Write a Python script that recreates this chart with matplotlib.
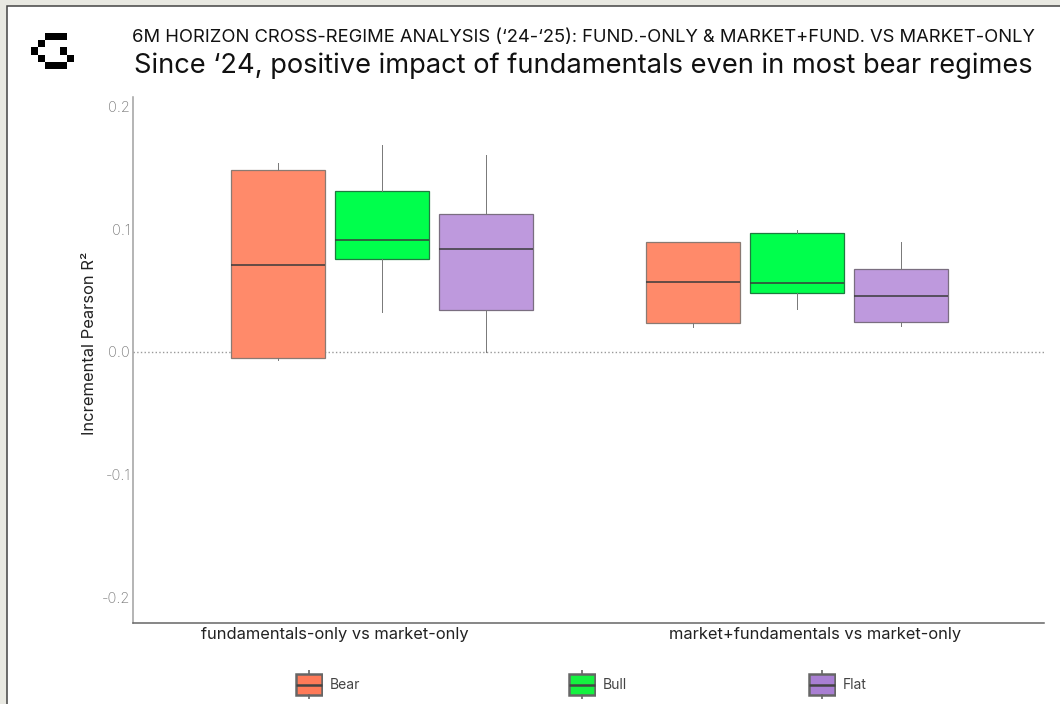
import matplotlib
matplotlib.use('Agg')
import matplotlib.pyplot as plt
from matplotlib.patches import Rectangle
import numpy as np

plt.rcParams['font.family'] = ['Inter', 'DejaVu Sans']

W, H = 1060, 704

comparisons = ['fundamentals-only vs market-only', 'market+fundamentals vs market-only']
regimes = ['Bear', 'Bull', 'Flat']
box_colors = ['#FF8A6A', '#00FF4C', '#BE99DD']
edge_colors = ['#8A7A72', '#1F7A3F', '#7A6E80']
key_colors = ['#FF7A58', '#14F23F', '#A97FD3']

# whisker low, q1, median, q3, whisker high
bear_stats = [[-0.0065, -0.005, 0.071, 0.148, 0.154], [0.020, 0.0236, 0.057, 0.0896, 0.0896]]
bull_stats = [[0.0326, 0.0758, 0.091, 0.131, 0.1686], [0.035, 0.048, 0.056, 0.097, 0.0994]]
flat_stats = [[0.0, 0.034, 0.084, 0.1125, 0.1605], [0.021, 0.0244, 0.0456, 0.0676, 0.0896]]
all_stats = [bear_stats, bull_stats, flat_stats]

y_ticks = [-0.2, -0.1, 0.0, 0.1, 0.2]
y_tick_labels = ['-0.2', '-0.1', '0.0', '0.1', '0.2']

logo = np.array([
    [0, 0, 1, 1, 1, 0],
    [0, 1, 0, 0, 0, 0],
    [1, 0, 0, 0, 1, 0],
    [0, 1, 0, 0, 0, 1],
    [0, 0, 1, 1, 1, 0],
])


def px_axes(fig, x0, y0, x1, y1):
    # pixel box measured from the top left of the picture
    return fig.add_axes([x0 / W, 1 - y1 / H, (x1 - x0) / W, (y1 - y0) / H])


def box_stat(s):
    return {'whislo': s[0], 'q1': s[1], 'med': s[2], 'q3': s[3], 'whishi': s[4], 'fliers': []}


fig = plt.figure(figsize=(W / 100, H / 100), dpi=100, facecolor='#E9E9E2')

# white card with dark edge, behind all axes
fig.add_artist(Rectangle((6.5 / W, -0.01), (W - 6.5) / W + 0.01, 1 - 5.5 / H + 0.01, transform=fig.transFigure,
                         facecolor='white', edgecolor='#444444', linewidth=1.1, zorder=-1))

ax = px_axes(fig, 133, 97, 1044, 623)
ax.set_xlim(-0.6, 1.595)
ax.set_ylim(-0.2208, 0.2077)
ax.axhline(0, color='#999999', linewidth=1, linestyle=':', zorder=1)

for i in range(len(regimes)):
    positions = [p + (i - 1) * 0.25 for p in range(len(comparisons))]
    ax.bxp([box_stat(s) for s in all_stats[i]], positions=positions, widths=0.2265,
           patch_artist=True, showcaps=False, showfliers=False, manage_ticks=False,
           boxprops=dict(facecolor=box_colors[i], edgecolor=edge_colors[i], linewidth=0.9),
           medianprops=dict(color='#3A3A3A', linewidth=1.1),
           whiskerprops=dict(color='#777777', linewidth=0.7), zorder=2)

# the labels sit off-centre from their box groups in the original
ax.set_xticks([-0.113, 1.043])
ax.set_xticklabels(comparisons, fontsize=11.85, color='#222222')
ax.set_yticks(y_ticks)
ax.set_yticklabels(y_tick_labels, fontsize=10.5, fontweight='light', color='#7A7A7A')
ax.tick_params(axis='both', length=0)
ax.tick_params(axis='x', pad=3)
ax.tick_params(axis='y', pad=2)
ax.spines['top'].set_visible(False)
ax.spines['right'].set_visible(False)
ax.spines['left'].set_color('#A0A0A0')
ax.spines['left'].set_linewidth(1.1)
ax.spines['bottom'].set_color('#666666')
ax.spines['bottom'].set_linewidth(1.1)
ax.patch.set_alpha(0)

fig.text(89 / W, 1 - 343.5 / H, 'Incremental Pearson R²', rotation=90, ha='center', va='center',
         fontsize=11.9, color='#222222')

fig.text(132 / W, 1 - 37.5 / H, '6M HORIZON CROSS-REGIME ANALYSIS (‘24-‘25): FUND.-ONLY & MARKET+FUND. VS MARKET-ONLY',
         ha='left', va='center', fontsize=13.24, color='#111111')
fig.text(134 / W, 1 - 65.5 / H, 'Since ‘24, positive impact of fundamentals even in most bear regimes',
         ha='left', va='center', fontsize=19.65, color='#111111')

logo_ax = px_axes(fig, 31, 33, 74, 69)
logo_ax.imshow(logo, cmap='gray_r', vmin=0, vmax=1, aspect='auto', interpolation='nearest')
logo_ax.axis('off')

# legend keys, one small box each
key_x = [295, 568, 808]
for i, name in enumerate(regimes):
    kx = px_axes(fig, key_x[i], 670, key_x[i] + 28, 699)
    kx.bxp([box_stat([0, 0.15, 0.5, 0.85, 1])], positions=[0], widths=0.9, patch_artist=True,
           showcaps=False, showfliers=False, manage_ticks=False,
           boxprops=dict(facecolor=key_colors[i], edgecolor='#666666', linewidth=1.8),
           medianprops=dict(color='#444444', linewidth=1.8),
           whiskerprops=dict(color='#666666', linewidth=1.2))
    kx.set_xlim(-0.5, 0.5)
    kx.set_ylim(0, 1)
    kx.axis('off')
    fig.text((key_x[i] + 35) / W, 1 - 685 / H, name, ha='left', va='center', fontsize=10, color='#444444')

fig.savefig('out.png', dpi=100, facecolor=fig.get_facecolor())
